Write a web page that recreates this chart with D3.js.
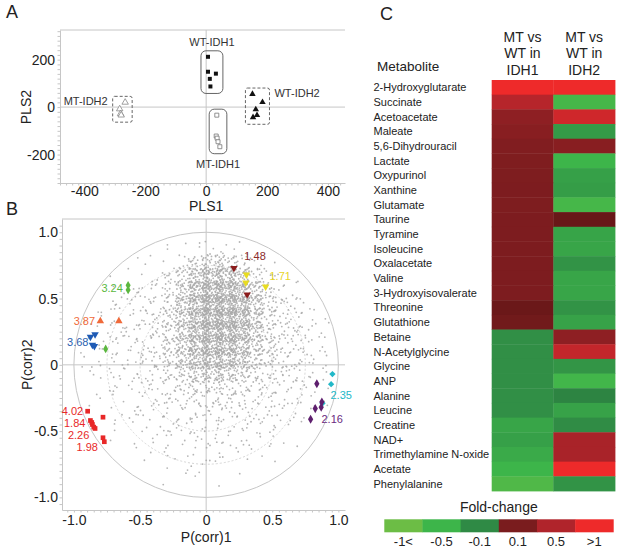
<!DOCTYPE html>
<html>
<head>
<meta charset="utf-8">
<script src="https://cdn.jsdelivr.net/npm/d3@7/dist/d3.min.js"></script>
<style>
html,body{margin:0;padding:0;background:#fff;}
svg{display:block;}
text{font-family:"Liberation Sans",Arial,Helvetica,sans-serif;}
</style>
</head>
<body>
<svg id="chart" width="626" height="550"></svg>
<script>
// ================= DATA =================
// Panel A : PLS score plot
const plsXTicks = [-400, -200, 0, 200, 400];
const plsYTicks = [-200, 0, 200];
const wtIdh1 = [[6, 212], [6, 149], [32, 141], [12, 119], [14, 87]];
const mtIdh1 = [[35, -34], [33, -122], [36, -131], [39, -146], [45, -167]];
const wtIdh2 = [[152, 55], [185, 21], [163, -10], [167, -34], [154, -43]];
const mtIdh2 = [[-266, 20], [-284, -8], [-281, -28], [-279, -34]];

// Panel B : correlation loading plot
const corrTicks = [-1, -0.5, 0, 0.5, 1];
const corrTickLabels = ["-1.0", "-0.5", "0", "0.5", "1.0"];
// approximate number of grey variables per 0.1 x 0.1 cell (rows: y 1.0 -> -1.0, cols: x -1.0 -> 1.0)
const cloudDensity = [
  [0,0,0,0,0,0,0,0,0,0,0,0,0,0,0,0,0,0,0,0],
  [0,0,0,0,0,0,1,1,2,4,6,4,2,1,0,0,0,0,0,0],
  [0,0,0,0,1,1,2,4,10,24,30,28,18,7,2,1,0,0,0,0],
  [0,0,0,1,2,3,4,9,26,50,58,55,42,20,7,3,1,0,0,0],
  [0,0,1,2,3,4,6,13,36,62,75,72,58,36,14,6,3,1,0,0],
  [0,1,2,3,4,5,8,17,40,68,80,80,65,40,16,8,5,3,1,0],
  [0,2,3,4,5,6,8,18,40,68,80,80,65,40,17,10,6,4,2,0],
  [1,2,3,4,5,6,9,18,40,65,78,78,62,38,16,10,7,5,3,1],
  [1,2,3,4,5,6,9,17,38,60,70,68,52,32,15,10,7,5,3,1],
  [1,2,3,4,5,6,10,17,36,55,62,58,44,26,14,10,7,5,3,1],
  [1,2,3,3,4,5,8,13,22,34,36,34,26,16,11,8,6,4,3,1],
  [0,1,2,3,3,4,6,8,12,15,15,14,12,9,8,6,5,4,2,0],
  [0,1,2,2,3,4,5,6,8,9,9,9,8,7,6,5,4,3,2,0],
  [0,0,1,2,2,3,4,5,6,6,6,6,6,5,5,4,3,2,1,0],
  [0,0,1,1,2,3,3,4,4,5,5,4,4,4,4,3,2,1,0,0],
  [0,0,0,1,1,2,3,3,3,4,4,3,3,3,3,2,1,0,0,0],
  [0,0,0,0,1,1,2,2,2,3,3,2,2,2,1,1,0,0,0,0],
  [0,0,0,0,0,0,1,1,2,2,2,1,1,1,0,0,0,0,0,0],
  [0,0,0,0,0,0,0,1,1,1,1,0,0,0,0,0,0,0,0,0],
  [0,0,0,0,0,0,0,0,0,0,0,0,0,0,0,0,0,0,0,0]
];
const hl148 = [[0.21, 0.73], [0.31, 0.53]];
const hl171 = [[0.305, 0.68], [0.30, 0.62], [0.45, 0.59]];
const hl324 = [[-0.59, 0.60], [-0.59, 0.565], [-0.76, 0.12]];
const hl387 = [[-0.80, 0.33], [-0.66, 0.33]];
const hl368 = [[-0.875, 0.21], [-0.84, 0.23], [-0.86, 0.15], [-0.845, 0.14]];
const hlRed = [[-0.896, -0.35], [-0.78, -0.395], [-0.875, -0.42], [-0.865, -0.435], [-0.86, -0.45], [-0.85, -0.47], [-0.84, -0.48], [-0.78, -0.55], [-0.77, -0.58]];
const hlCyan = [[0.955, -0.07], [0.945, -0.146], [0.88, -0.29]];
const hlPurple = [[0.837, -0.143], [0.875, -0.28], [0.87, -0.32], [0.825, -0.33], [0.79, -0.41]];
const foldTexts = ["1.48", "1.71", "3.24", "3.87", "3.68", "4.02", "1.84", "2.26", "1.98", "2.35", "2.16"];
const foldTextX = [0.37, 0.56, -0.63, -0.84, -0.89, -0.93, -0.913, -0.883, -0.818, 0.94, 0.872];
const foldTextY = [0.82, 0.67, 0.58, 0.33, 0.17, -0.35, -0.44, -0.53, -0.62, -0.23, -0.41];

// Panel C : heat map
const metabolites = ["2-Hydroxyglutarate", "Succinate", "Acetoacetate", "Maleate", "5,6-Dihydrouracil",
  "Lactate", "Oxypurinol", "Xanthine", "Glutamate", "Taurine", "Tyramine", "Isoleucine", "Oxalacetate",
  "Valine", "3-Hydroxyisovalerate", "Threonine", "Glutathione", "Betaine", "N-Acetylglycine", "Glycine",
  "ANP", "Alanine", "Leucine", "Creatine", "NAD+", "Trimethylamine N-oxide", "Acetate", "Phenylalanine"];
const comparisons = ["IDH1", "IDH2"];
const fcIdh1 = [1.2, 0.55, 0.25, 0.2, 0.15, 0.14, 0.13, 0.12, 0.13, 0.12, 0.12, 0.12, 0.12, 0.12, 0.12, 0.05, 0.07,
  -0.15, -0.15, -0.15, -0.15, -0.15, -0.15, -0.35, -0.3, -0.4, -0.5, -0.7];
const fcIdh2 = [1.2, -0.6, 0.75, -0.25, 0.2, -0.5, -0.3, -0.28, -0.6, 0.04, -0.34, -0.35, -0.18, -0.35, -0.35, -0.18, -0.32,
  0.25, 0.65, -0.2, -0.55, -0.06, -0.32, -0.12, 0.45, 0.45, 1.2, -0.18];
const legendLabels = ["-1<", "-0.5", "-0.1", "0.1", "0.5", ">1"];
const legendValues = [-1, -0.5, -0.1, 0.1, 0.5, 1];

// ================= DRAWING =================
const svg = d3.select("#chart");
const grey = "#c6c6c6";
const ink = "#222";

function styleAxis(g, fs) {
  g.select(".domain").attr("stroke", grey);
  g.selectAll(".tick line").attr("stroke", grey);
  g.selectAll(".tick text").attr("fill", ink).style("font-size", fs + "px");
}

function drawFrame(g, x, y, xMinor, yMinor, xTicks, yTicks, xFmt, yFmt, padX, padY) {
  const [x0, x1] = x.range(), [yb, yt] = y.range();
  g.append("line").attr("x1", x0).attr("x2", x1).attr("y1", yt).attr("y2", yt).attr("stroke", grey);
  g.append("line").attr("x1", x(0)).attr("x2", x(0)).attr("y1", yt).attr("y2", yb).attr("stroke", grey);
  g.append("line").attr("x1", x0).attr("x2", x1).attr("y1", y(0)).attr("y2", y(0)).attr("stroke", grey);
  g.append("g").attr("transform", `translate(${x0},0)`)
    .call(d3.axisLeft(y).tickValues(yMinor).tickSize(2.5).tickSizeOuter(0).tickFormat(""))
    .call(s => styleAxis(s, 14));
  g.append("g").attr("transform", `translate(0,${yb})`)
    .call(d3.axisBottom(x).tickValues(xMinor).tickSize(2.5).tickSizeOuter(0).tickFormat(""))
    .call(s => styleAxis(s, 14));
  g.append("g").attr("transform", `translate(${x0},0)`)
    .call(d3.axisLeft(y).tickValues(yTicks).tickSize(0).tickPadding(padY).tickFormat(yFmt))
    .call(s => { s.select(".domain").remove(); styleAxis(s, 14); });
  g.append("g").attr("transform", `translate(0,${yb})`)
    .call(d3.axisBottom(x).tickValues(xTicks).tickSize(0).tickPadding(padX).tickFormat(xFmt))
    .call(s => { s.select(".domain").remove(); styleAxis(s, 14); });
}

function panelLetter(t, x, y) {
  svg.append("text").attr("x", x).attr("y", y).text(t).style("font-size", "18px").attr("fill", ink);
}

// ---------- Panel A ----------
const xA = d3.scaleLinear().domain([-480, 456]).range([60, 345]);
const yA = d3.scaleLinear().domain([-320, 325]).range([183, 30]);
const gA = svg.append("g");
drawFrame(gA, xA, yA, d3.range(-480, 456, 20), d3.range(-320, 326, 20), plsXTicks, plsYTicks,
  d => String(d), d => String(d), 3, 5);
panelLetter("A", 6, 18);
gA.append("text").attr("x", xA(0)).attr("y", 211).attr("text-anchor", "middle").text("PLS1")
  .style("font-size", "14px").attr("fill", ink);
gA.append("text").attr("transform", `translate(26,${yA(0)}) rotate(-90)`).attr("text-anchor", "middle")
  .attr("dominant-baseline", "central").text("PLS2").style("font-size", "14px").attr("fill", ink);

const groupsA = [
  {name: "WT-IDH1", pts: wtIdh1, sym: d3.symbolSquare, size: 16, fill: "#111", stroke: "none", dash: null, rx: 5, lab: "top"},
  {name: "MT-IDH1", pts: mtIdh1, sym: d3.symbolSquare, size: 16, fill: "#fff", stroke: "#777", dash: null, rx: 5, lab: "bottom"},
  {name: "WT-IDH2", pts: wtIdh2, sym: d3.symbolTriangle, size: 18, fill: "#111", stroke: "none", dash: "3,2", rx: 2, lab: "right"},
  {name: "MT-IDH2", pts: mtIdh2, sym: d3.symbolTriangle, size: 18, fill: "#fff", stroke: "#888", dash: "3,2", rx: 2, lab: "left"}
];
groupsA.forEach(gr => {
  const xs = gr.pts.map(p => xA(p[0])), ys = gr.pts.map(p => yA(p[1]));
  const bx0 = d3.min(xs) - 7, bx1 = d3.max(xs) + 7, by0 = d3.min(ys) - 6, by1 = d3.max(ys) + 7;
  gA.append("rect").attr("x", bx0).attr("y", by0).attr("width", bx1 - bx0).attr("height", by1 - by0)
    .attr("rx", gr.rx).attr("fill", "none").attr("stroke", "#666").attr("stroke-width", 1)
    .attr("stroke-dasharray", gr.dash);
  gA.selectAll(null).data(gr.pts).join("path")
    .attr("transform", p => `translate(${xA(p[0])},${yA(p[1])})`)
    .attr("d", d3.symbol().type(gr.sym).size(gr.size))
    .attr("fill", gr.fill).attr("stroke", gr.stroke).attr("stroke-width", 0.8);
  const t = gA.append("text").text(gr.name).style("font-size", "11px").attr("fill", "#333")
    .attr("dominant-baseline", "central");
  if (gr.lab === "top") t.attr("x", (bx0 + bx1) / 2).attr("y", by0 - 9).attr("text-anchor", "middle");
  if (gr.lab === "bottom") t.attr("x", (bx0 + bx1) / 2).attr("y", by1 + 10).attr("text-anchor", "middle");
  if (gr.lab === "right") t.attr("x", bx1 + 5).attr("y", by0 + 5).attr("text-anchor", "start");
  if (gr.lab === "left") t.attr("x", bx0 - 5).attr("y", by0 + 5).attr("text-anchor", "end");
});

// ---------- Panel B ----------
const xB = d3.scaleLinear().domain([-1.09, 1.05]).range([62, 345]);
const yB = d3.scaleLinear().domain([-1.095, 1.10]).range([510, 219]);
const gB = svg.append("g");
drawFrame(gB, xB, yB, d3.range(-21, 21).map(i => i * 0.05), d3.range(-21, 22).map(i => i * 0.05),
  corrTicks, corrTicks, (d, i) => corrTickLabels[i], (d, i) => corrTickLabels[i], 5, 4);
panelLetter("B", 6, 215);
gB.append("text").attr("x", xB(0)).attr("y", 542).attr("text-anchor", "middle").text("P(corr)1")
  .style("font-size", "14px").attr("fill", ink);
gB.append("text").attr("transform", `translate(27,${yB(0)}) rotate(-90)`).attr("text-anchor", "middle")
  .attr("dominant-baseline", "central").text("P(corr)2").style("font-size", "14px").attr("fill", ink);

[[1, null], [0.75, "2,2"], [0.5, "2,2"]].forEach(([r, dash]) => {
  gB.append("ellipse").attr("cx", xB(0)).attr("cy", yB(0))
    .attr("rx", xB(r) - xB(0)).attr("ry", yB(0) - yB(r))
    .attr("fill", "none").attr("stroke", dash ? "#d6d6d6" : grey).attr("stroke-width", 1)
    .attr("stroke-dasharray", dash);
});

// grey variables spread evenly (Halton placement) over their density cells
function halton(i, b) { let f = 1, r = 0; while (i > 0) { f /= b; r += f * (i % b); i = Math.floor(i / b); } return r; }
const cloud = [];
cloudDensity.forEach((row, r) => row.forEach((n, c) => {
  const start = 1 + (r * 20 + c) * 97;
  for (let i = 0; i < n; i++) {
    const u = halton(start + i, 2), v = halton(start + i, 3);
    const px = -1 + (c - 0.3 + 1.6 * u) * 0.1, py = 1 - (r - 0.3 + 1.6 * v) * 0.1;
    if (px * px + py * py < 0.98) cloud.push([px, py]);
  }
}));
gB.append("g").selectAll("circle").data(cloud).join("circle")
  .attr("cx", d => xB(d[0])).attr("cy", d => yB(d[1])).attr("r", 0.9)
  .attr("fill", "#a8a8a8").attr("opacity", 0.85);

const hlGroups = [
  {pts: hl148, color: "#8b1c1c", sym: d3.symbolTriangle, rot: 180, size: 24},
  {pts: hl171, color: "#e8dc22", sym: d3.symbolTriangle, rot: 180, size: 24},
  {pts: hl324, color: "#5bb73f", sym: d3.symbolDiamond, rot: 0, size: 22},
  {pts: hl387, color: "#f06a3a", sym: d3.symbolTriangle, rot: 0, size: 24},
  {pts: hl368, color: "#1f5bb5", sym: d3.symbolTriangle, rot: 180, size: 24},
  {pts: hlRed, color: "#e82828", sym: d3.symbolSquare, rot: 0, size: 22},
  {pts: hlCyan, color: "#22b8c8", sym: d3.symbolSquare, rot: 45, size: 20},
  {pts: hlPurple, color: "#5e1f6e", sym: d3.symbolDiamond, rot: 0, size: 24}
];
hlGroups.forEach(gr => {
  gB.selectAll(null).data(gr.pts).join("path")
    .attr("transform", p => `translate(${xB(p[0])},${yB(p[1])}) rotate(${gr.rot})`)
    .attr("d", d3.symbol().type(gr.sym).size(gr.size))
    .attr("fill", gr.color);
});
const foldColors = ["#8b2a2a", "#e8d428", "#5bb73f", "#f06a3a", "#2a5fb0", "#e82828", "#e82828", "#e82828", "#e82828", "#22b8c8", "#6a2a80"];
const foldAnchor = ["middle", "middle", "end", "end", "end", "end", "end", "end", "end", "start", "start"];
gB.selectAll(null).data(foldTexts).join("text")
  .attr("x", (d, i) => xB(foldTextX[i])).attr("y", (d, i) => yB(foldTextY[i]))
  .attr("text-anchor", (d, i) => foldAnchor[i]).attr("dominant-baseline", "central")
  .attr("fill", (d, i) => foldColors[i]).style("font-size", "11px").text(d => d);

// ---------- Panel C ----------
panelLetter("C", 380, 20);
const legendColors = ["#6cbd45", "#3db54a", "#2f8a45", "#7a1c1e", "#b0242b", "#ee2a2a"];
const negColor = d3.scaleLinear().domain([-1, -0.5, -0.1, 0]).range([legendColors[0], legendColors[1], legendColors[2], "#297a3d"]).clamp(true);
const posColor = d3.scaleLinear().domain([0, 0.1, 0.5, 1]).range(["#5c1414", legendColors[3], legendColors[4], legendColors[5]]).clamp(true);
const fcColor = v => v < 0 ? negColor(v) : posColor(v);

const xC = d3.scaleBand().domain(comparisons).range([491.7, 615]);
const yC = d3.scaleBand().domain(metabolites).range([80, 491]);
const gC = svg.append("g");
const cells = [];
metabolites.forEach((m, i) => {
  cells.push({m, c: "IDH1", v: fcIdh1[i]});
  cells.push({m, c: "IDH2", v: fcIdh2[i]});
});
gC.selectAll("rect.cell").data(cells).join("rect").attr("class", "cell")
  .attr("x", d => xC(d.c)).attr("y", d => yC(d.m))
  .attr("width", xC.bandwidth() + 0.4).attr("height", yC.bandwidth() + 0.4)
  .attr("fill", d => fcColor(d.v));
gC.selectAll("text.row").data(metabolites).join("text").attr("class", "row")
  .attr("x", 373.5).attr("y", d => yC(d) + yC.bandwidth() / 2).attr("dy", "0.36em")
  .style("font-size", "11px").attr("fill", ink).text(d => d);
gC.append("text").attr("x", 377).attr("y", 71).text("Metabolite").style("font-size", "13.5px").attr("fill", ink);
comparisons.forEach(c => {
  ["MT vs", "WT in", c].forEach((line, j) => {
    gC.append("text").attr("x", xC(c) + xC.bandwidth() / 2).attr("y", 41.7 + j * 16.7)
      .attr("text-anchor", "middle").style("font-size", "14px").attr("fill", ink).text(line);
  });
});

// legend
const xL = d3.scaleBand().domain(legendLabels).range([384.3, 613.3]);
gC.append("text").attr("x", (384.3 + 613.3) / 2).attr("y", 512).attr("text-anchor", "middle")
  .style("font-size", "14px").attr("fill", ink).text("Fold-change");
gC.selectAll("rect.leg").data(legendLabels).join("rect").attr("class", "leg")
  .attr("x", d => xL(d)).attr("y", 519.3).attr("width", xL.bandwidth() + 0.4).attr("height", 13)
  .attr("fill", (d, i) => legendColors[i]);
gC.selectAll("text.leg").data(legendLabels).join("text").attr("class", "leg")
  .attr("x", d => xL(d) + xL.bandwidth() / 2).attr("y", 545.5).attr("text-anchor", "middle")
  .style("font-size", "13px").attr("fill", ink).text(d => d);
</script>
</body>
</html>
